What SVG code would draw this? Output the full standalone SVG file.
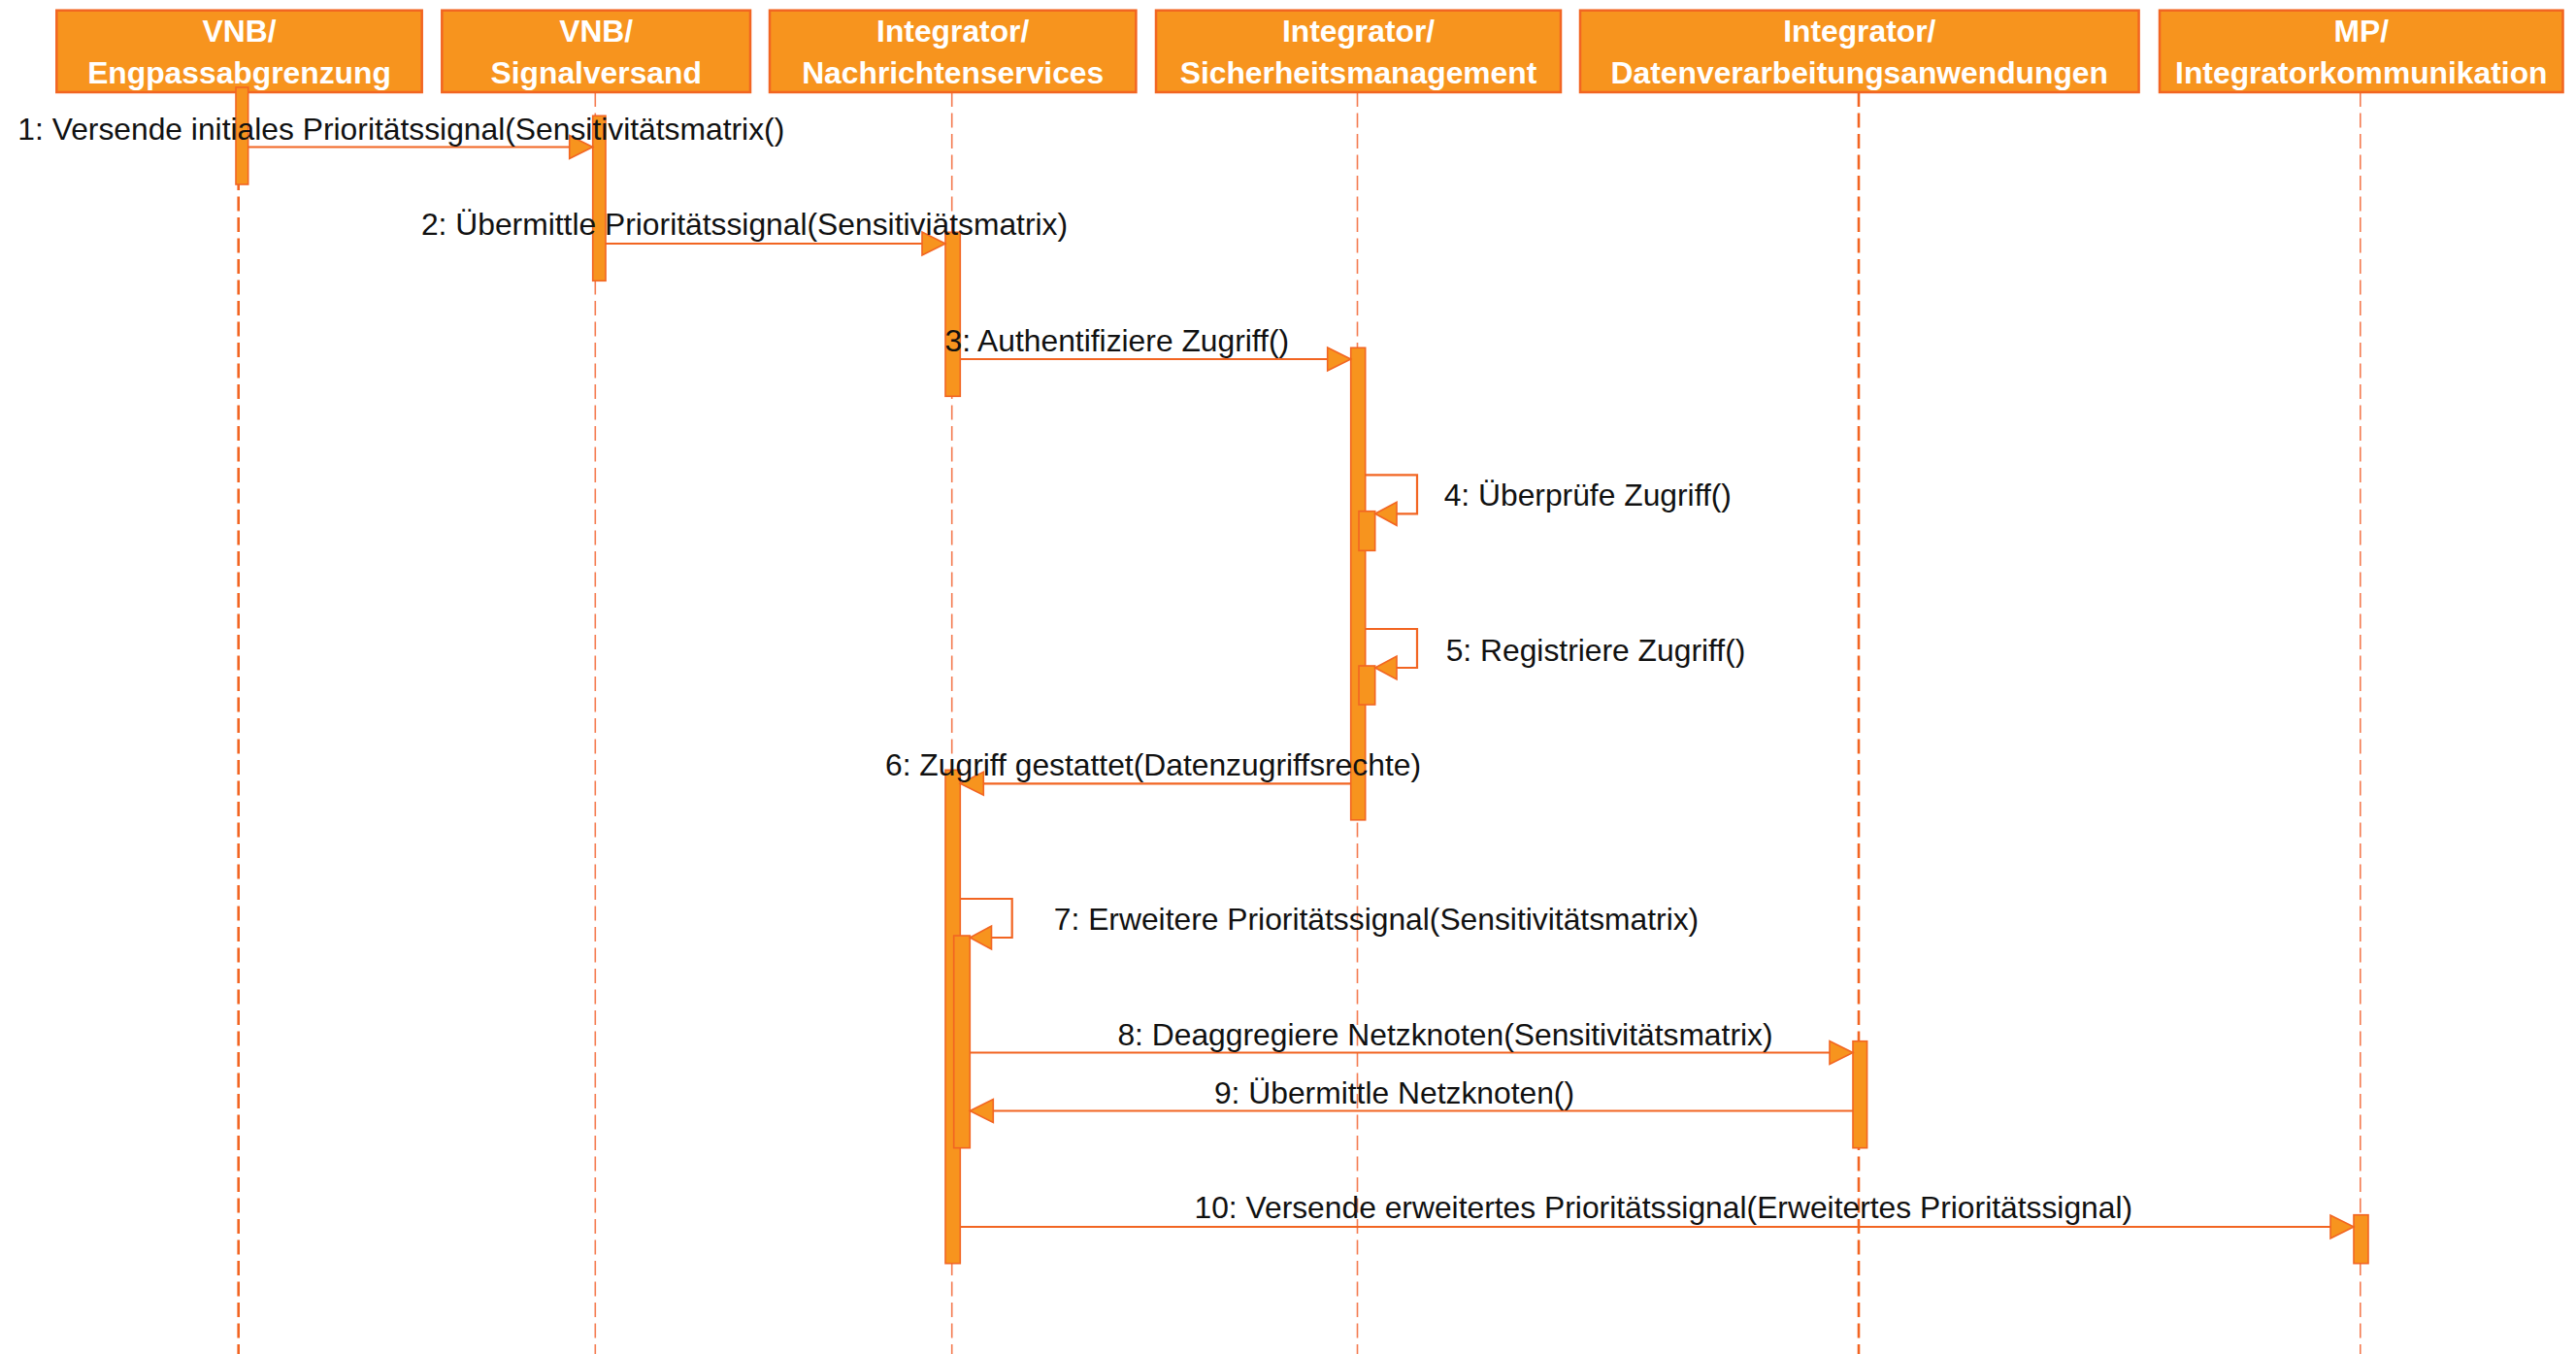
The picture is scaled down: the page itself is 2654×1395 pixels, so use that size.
<svg xmlns="http://www.w3.org/2000/svg" width="2654" height="1395" viewBox="0 0 2654 1395">
<style>
.box{fill:#F7941E;stroke:#F26522;stroke-width:2.5}
.hdr{font-family:"Liberation Sans",Arial,Helvetica,sans-serif;font-weight:bold;font-size:31.8px;fill:#ffffff;text-anchor:middle}
.life{fill:none;stroke:#F26522;stroke-dasharray:15 6.5}
.life-a{stroke-width:2.6}
.life-b{stroke-width:1.6;stroke:#F47B50}
.bar{fill:#F7941E;stroke:#F26522;stroke-width:1.6}
.msg{fill:none;stroke:#F26522;stroke-width:2.2}
.head{fill:#F7941E;stroke:#F26522;stroke-width:1.6;stroke-linejoin:miter}
.lbl{font-family:"Liberation Sans",Arial,Helvetica,sans-serif;font-size:31.8px;fill:#111111;text-anchor:middle}
</style>
<rect width="2654" height="1395" fill="#ffffff"/>

<g id="lifelines">
<line class="life life-a" x1="245.7" y1="95" x2="245.7" y2="1395"/>
<line class="life life-b" x1="613.3" y1="95" x2="613.3" y2="1395"/>
<line class="life life-b" x1="980.7" y1="95" x2="980.7" y2="1395"/>
<line class="life life-b" x1="1398.5" y1="95" x2="1398.5" y2="1395"/>
<line class="life life-a" x1="1915" y1="95" x2="1915" y2="1395"/>
<line class="life life-b" x1="2431.8" y1="95" x2="2431.8" y2="1395"/>
</g>

<g id="node-engpass">
<rect class="box" x="58.3" y="10.7" width="376.4" height="84.3"/>
<text class="hdr" x="246.5" y="43.3">VNB/</text>
<text class="hdr" x="246.5" y="86">Engpassabgrenzung</text>
</g>
<g id="node-signalversand">
<rect class="box" x="455.3" y="10.7" width="317.7" height="84.3"/>
<text class="hdr" x="614.2" y="43.3">VNB/</text>
<text class="hdr" x="614.2" y="86">Signalversand</text>
</g>
<g id="node-nachrichten">
<rect class="box" x="793" y="10.7" width="377.4" height="84.3"/>
<text class="hdr" x="981.7" y="43.3">Integrator/</text>
<text class="hdr" x="981.7" y="86">Nachrichtenservices</text>
</g>
<g id="node-sicherheit">
<rect class="box" x="1191" y="10.7" width="417" height="84.3"/>
<text class="hdr" x="1399.5" y="43.3">Integrator/</text>
<text class="hdr" x="1399.5" y="86">Sicherheitsmanagement</text>
</g>
<g id="node-daten">
<rect class="box" x="1628" y="10.7" width="575.6" height="84.3"/>
<text class="hdr" x="1915.8" y="43.3">Integrator/</text>
<text class="hdr" x="1915.8" y="86">Datenverarbeitungsanwendungen</text>
</g>
<g id="node-mp">
<rect class="box" x="2225" y="10.7" width="415.5" height="84.3"/>
<text class="hdr" x="2432.8" y="43.3">MP/</text>
<text class="hdr" x="2432.8" y="86">Integratorkommunikation</text>
</g>

<g id="activations">
<rect class="bar" x="243" y="90" width="12.7" height="100"/>
<rect class="bar" x="610.7" y="119.3" width="13.3" height="170"/>
<rect class="bar" x="974" y="239.3" width="15.3" height="169"/>
<rect class="bar" x="1391.7" y="358.3" width="15" height="486.5"/>
<rect class="bar" x="1400" y="526.7" width="16.7" height="40.6"/>
<rect class="bar" x="1400" y="686" width="16.7" height="40"/>
<rect class="bar" x="974" y="793.3" width="15.3" height="508.4"/>
<rect class="bar" x="982.7" y="964" width="16.6" height="218.7"/>
<rect class="bar" x="1909" y="1072.7" width="14.6" height="110"/>
<rect class="bar" x="2425" y="1251.7" width="15" height="50"/>
</g>

<g id="connectors">
<g id="msg1">
<line class="msg" x1="255.7" y1="151.5" x2="587" y2="151.5"/>
<polygon class="head" points="610.7,151.5 586.7,139.5 586.7,163.5"/>
</g>
<g id="msg2">
<line class="msg" x1="624" y1="251" x2="952" y2="251"/>
<polygon class="head" points="974,251 950,239 950,263"/>
</g>
<g id="msg3">
<line class="msg" x1="989.3" y1="370" x2="1369" y2="370"/>
<polygon class="head" points="1391.7,370 1367.7,358 1367.7,382"/>
</g>
<g id="msg4">
<polyline class="msg" points="1407,489.3 1460,489.3 1460,529.3 1438,529.3"/>
<polygon class="head" points="1416.7,529.3 1439,517.3 1439,541.3"/>
</g>
<g id="msg5">
<polyline class="msg" points="1407,648 1460,648 1460,688 1438,688"/>
<polygon class="head" points="1416.7,688 1439,676 1439,700"/>
</g>
<g id="msg6">
<line class="msg" x1="1391.7" y1="807.3" x2="1012" y2="807.3"/>
<polygon class="head" points="989.3,807.3 1013.3,795.3 1013.3,819.3"/>
</g>
<g id="msg7">
<polyline class="msg" points="989.3,926 1042.7,926 1042.7,966 1021,966"/>
<polygon class="head" points="999.3,966 1021.5,954 1021.5,978"/>
</g>
<g id="msg8">
<line class="msg" x1="999.3" y1="1084.5" x2="1887" y2="1084.5"/>
<polygon class="head" points="1909,1084.5 1885,1072.5 1885,1096.5"/>
</g>
<g id="msg9">
<line class="msg" x1="1909" y1="1144.5" x2="1021" y2="1144.5"/>
<polygon class="head" points="999.3,1144.5 1023.3,1132.5 1023.3,1156.5"/>
</g>
<g id="msg10">
<line class="msg" x1="989.3" y1="1264" x2="2403" y2="1264"/>
<polygon class="head" points="2425,1264 2401,1252 2401,1276"/>
</g>
</g>

<g id="labels">
<text class="lbl" x="413.3" y="144">1: Versende initiales Prioritätssignal(Sensitivitätsmatrix()</text>
<text class="lbl" x="767" y="241.7">2: Übermittle Prioritätssignal(Sensitiviätsmatrix)</text>
<text class="lbl" x="1150.8" y="361.7">3: Authentifiziere Zugriff()</text>
<text class="lbl" x="1635.8" y="520.7">4: Überprüfe Zugriff()</text>
<text class="lbl" x="1644" y="681.4">5: Registriere Zugriff()</text>
<text class="lbl" x="1188" y="799.3">6: Zugriff gestattet(Datenzugriffsrechte)</text>
<text class="lbl" x="1418" y="958.3">7: Erweitere Prioritätssignal(Sensitivitätsmatrix)</text>
<text class="lbl" x="1489" y="1076.5">8: Deaggregiere Netzknoten(Sensitivitätsmatrix)</text>
<text class="lbl" x="1436.5" y="1137.3">9: Übermittle Netzknoten()</text>
<text class="lbl" x="1713.8" y="1255">10: Versende erweitertes Prioritätssignal(Erweitertes Prioritätssignal)</text>
</g>
</svg>
